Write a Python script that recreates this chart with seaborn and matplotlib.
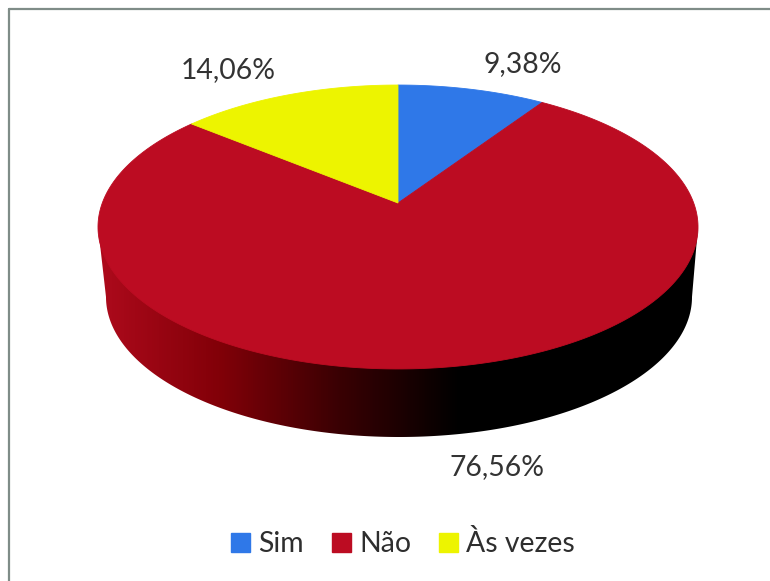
import numpy as np
import matplotlib
matplotlib.use("Agg")
import matplotlib.pyplot as plt
from matplotlib.patches import Polygon, Patch
from matplotlib.lines import Line2D
import seaborn as sns

# Survey answers, in percent
categories = ["Sim", "Não", "Às vezes"]
shares = [9.38, 76.56, 14.06]

wedge_colors = sns.color_palette(["#2F78E8", "#BC0C22", "#EDF400"])
wall_cmap = sns.blend_palette(
    ["#AE0A1C", "#820008", "#3A0003", "#000000", "#000000", "#000000"], as_cmap=True
)

# Layout of the tilted disc, in figure pixels
APEX_X, APEX_Y = 398, 203
TILT, DEPTH_Y, WIDTH = 0.169, -103.6, 295.7
BASE_X, BASE_Y, BASE_RX, BASE_RY = 399, 297, 293, 140
LABEL_XY = [(523, 64), (497, 467), (228, 70)]

sns.set_theme(style="white")
plt.rcParams["font.family"] = ["Lato", "DejaVu Sans"]

fig = plt.figure(figsize=(7.7, 5.81), dpi=100, facecolor="white")
ax = fig.add_axes([0, 0, 1, 1])
ax.set_axis_off()


def project(theta):
    """Perspective view of unit-circle points, theta measured clockwise from the top."""
    u, v = np.sin(theta), np.cos(theta)
    w = 1 + TILT * v
    return APEX_X + WIDTH * u / w, (APEX_Y + DEPTH_Y * v) / w


# Side wall: shaded band under the rim, clipped to the outline of the base
rim_x, rim_y = project(np.linspace(0, 2 * np.pi, 721))
left, right = np.argmin(rim_x), np.argmax(rim_x)
phi = np.linspace(np.pi, 0, 361)
wall_outline = np.vstack([
    [rim_x[left], rim_y[left]],
    np.column_stack([BASE_X + BASE_RX * np.cos(phi), BASE_Y + BASE_RY * np.sin(phi)]),
    [rim_x[right], rim_y[right]],
])
shade = ax.imshow(
    np.linspace(0, 1, 512)[None, :], cmap=wall_cmap, aspect="auto",
    extent=(98, 699, 440, 220), zorder=1,
)
wall = Polygon(wall_outline, closed=True, facecolor="none", edgecolor="none")
ax.add_patch(wall)
shade.set_clip_path(wall)

# Top face, one wedge per answer, clockwise from twelve o'clock
edges = 2 * np.pi * np.cumsum([0] + shares) / sum(shares)
for start, stop, color in zip(edges[:-1], edges[1:], wedge_colors):
    x, y = project(np.linspace(start, stop, 300))
    ax.add_patch(Polygon(
        np.column_stack([np.r_[APEX_X, x], np.r_[APEX_Y, y]]),
        closed=True, facecolor=color, edgecolor=color, linewidth=0.6, zorder=2,
    ))

for (lx, ly), share in zip(LABEL_XY, shares):
    ax.text(lx, ly, f"{share:.2f}%".replace(".", ","), ha="center", va="center",
            fontsize=20.4, color="#333333", zorder=3)

handles = [Patch(facecolor=c, edgecolor=c, label=n) for c, n in zip(wedge_colors, categories)]
ax.legend(
    handles=handles, loc="center", bbox_to_anchor=(403, 544),
    bbox_transform=ax.transData, ncol=3, frameon=False, fontsize=20.4,
    labelcolor="#2E2E2E", handlelength=0.67, handleheight=0.67,
    handletextpad=0.28, columnspacing=1.0, borderpad=0,
)

# Thin grey frame along the top and left
for xs, ys in [((9, 770), (9, 9)), ((9, 9), (9, 581))]:
    ax.add_line(Line2D(xs, ys, color="#7F8C88", linewidth=1.6, zorder=4))

ax.set_xlim(0, 770)
ax.set_ylim(581, 0)
fig.savefig("out.png", dpi=100)
